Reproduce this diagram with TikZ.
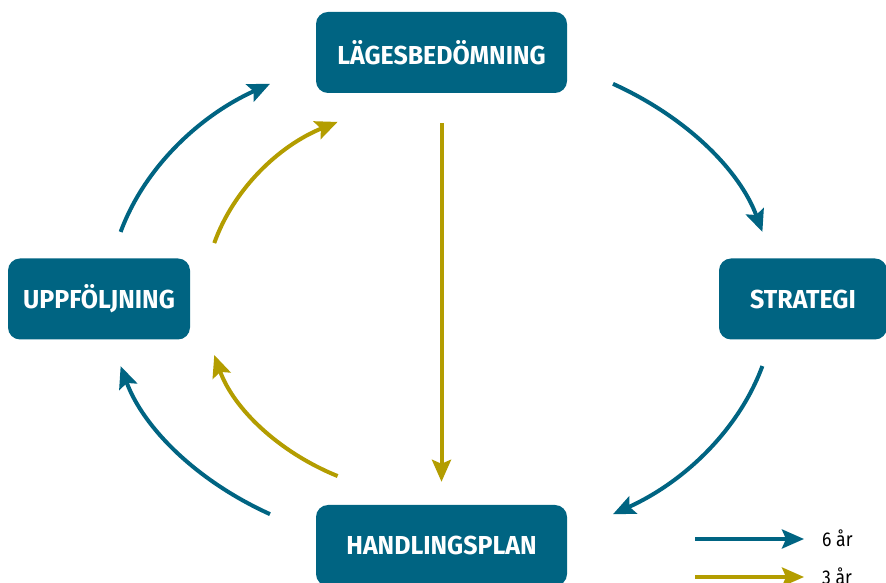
\documentclass[tikz,border=0pt]{standalone}
\usepackage{fontspec}
\setmainfont{Fira Sans}
\newfontfamily\boxfont[FakeStretch=0.96]{Fira Sans}
\newfontfamily\keyfont[FakeStretch=0.88]{Fira Sans}
\usetikzlibrary{arrows.meta,calc}

\definecolor{cycleblue}{RGB}{0,100,130}
\definecolor{cyclegold}{RGB}{179,157,0}

\tikzset{
  phase/.style={fill=cycleblue, rounded corners=12pt, minimum height=81pt,
    inner sep=0pt, text=white, font=\boxfont\bfseries\fontsize{26}{30}\selectfont},
  flow/.style={line width=4pt, -{Stealth[length=22pt, width=19pt, inset=4pt]}},
  sixyear/.style={flow, draw=cycleblue},
  threeyear/.style={flow, draw=cyclegold},
  legendtext/.style={anchor=base west, inner sep=0pt,
    font=\keyfont\fontsize{20}{24}\selectfont}
}

\begin{document}
\begin{tikzpicture}[x=1pt, y=1pt]
  \useasboundingbox (0,0) rectangle (886,583);
  \clip (0,0) rectangle (886,583);

  % the four phases of the planning cycle
  \node[phase, minimum width=251pt] (lag) at (441.5,530.5) {LÄGESBEDÖMNING};
  \node[phase, minimum width=168pt] (str) at (803,284) {STRATEGI};
  \node[phase, minimum width=251pt] (han) at (441.5,37.5) {HANDLINGSPLAN};
  \node[phase, minimum width=182pt] (upp) at (99,284) {UPPFÖLJNING};

  % centre of the cycle
  \coordinate (c) at (lag |- upp);

  % six-year cycle (outer ring)
  \draw[sixyear] ($(c)+(59:333pt and 251pt)$)
    arc[start angle=59, end angle=15.5, x radius=333pt, y radius=251pt];
  \draw[sixyear] ($(c)+(-15.5:333pt and 251pt)$)
    arc[start angle=-15.5, end angle=-59, x radius=333pt, y radius=251pt];
  \draw[sixyear] ($(c)+(-121:333pt and 251pt)$)
    arc[start angle=-121, end angle=-164.5, x radius=333pt, y radius=251pt];
  \draw[sixyear] ($(c)+(164.5:333pt and 251pt)$)
    arc[start angle=164.5, end angle=121, x radius=333pt, y radius=251pt];

  % three-year cycle (inner ring and shortcut)
  \draw[threeyear] ([yshift=-30pt]lag.south) -- ([yshift=23pt]han.north);
  \draw[threeyear] ($(c)+(-116:237pt and 197pt)$)
    arc[start angle=-116, end angle=-163.5, x radius=237pt, y radius=197pt];
  \draw[threeyear] ($(c)+(163.5:237pt and 197pt)$)
    arc[start angle=163.5, end angle=116, x radius=237pt, y radius=197pt];

  % legend
  \node[legendtext] (l6) at (822,36.5) {6 år};
  \node[legendtext] (l3) at (822,-1.5) {3 år};
  \coordinate (l6s) at (695,44);
  \coordinate (l3s) at (695,6);
  \draw[sixyear] (l6s) -- (l6s -| 804,0);
  \draw[threeyear] (l3s) -- (l3s -| 804,0);
\end{tikzpicture}
\end{document}
